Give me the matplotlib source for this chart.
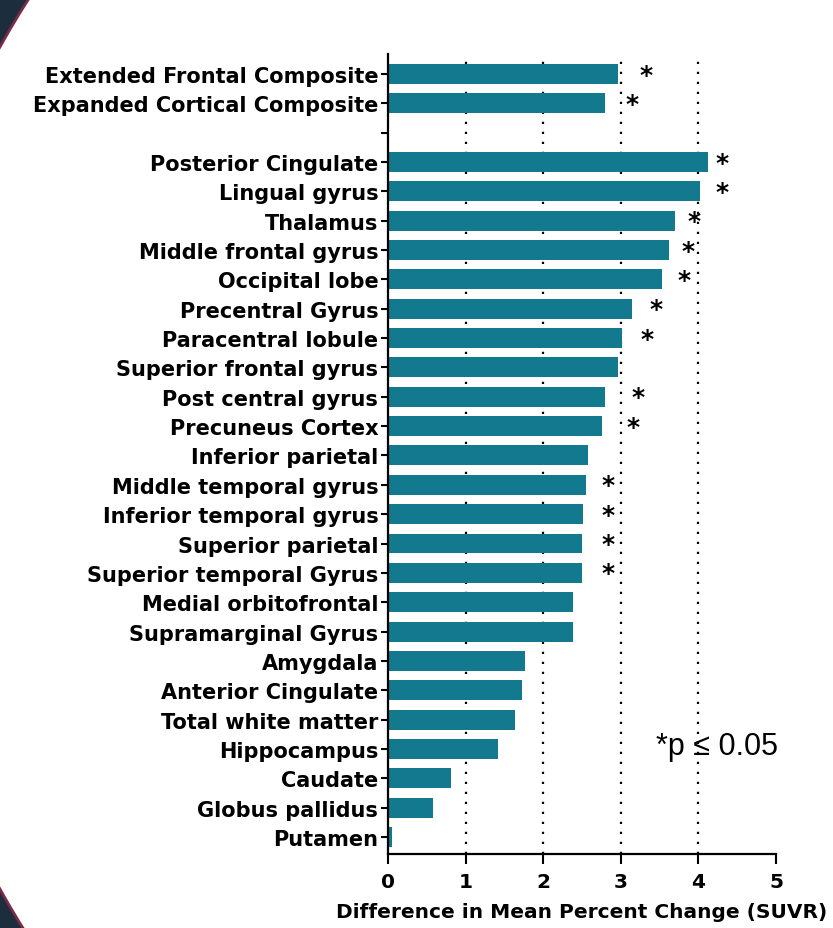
import numpy as np
import matplotlib.pyplot as plt
from matplotlib.patches import Rectangle, Circle

# --- DATA ---
regions = [
    "Extended Frontal Composite", "Expanded Cortical Composite", "",
    "Posterior Cingulate", "Lingual gyrus", "Thalamus", "Middle frontal gyrus",
    "Occipital lobe", "Precentral Gyrus", "Paracentral lobule",
    "Superior frontal gyrus", "Post central gyrus", "Precuneus Cortex",
    "Inferior parietal", "Middle temporal gyrus", "Inferior temporal gyrus",
    "Superior parietal", "Superior temporal Gyrus", "Medial orbitofrontal",
    "Supramarginal Gyrus", "Amygdala", "Anterior Cingulate",
    "Total white matter", "Hippocampus", "Caudate", "Globus pallidus", "Putamen",
]
diff = [
    2.96, 2.80, np.nan,
    4.12, 4.02, 3.70, 3.62, 3.53, 3.15, 3.01, 2.97, 2.79, 2.76,
    2.58, 2.55, 2.51, 2.50, 2.50, 2.38, 2.38,
    1.77, 1.73, 1.64, 1.42, 0.81, 0.58, 0.05,
]
# x position of the significance star (nan = not significant)
star_x = [
    3.33, 3.15, np.nan,
    4.31, 4.31, 3.94, 3.87, 3.81, 3.46, 3.34, np.nan, 3.22, 3.16,
    np.nan, 2.83, 2.83, 2.83, 2.83, np.nan, np.nan,
    np.nan, np.nan, np.nan, np.nan, np.nan, np.nan, np.nan,
]
xticks = [0, 1, 2, 3, 4, 5]

BAR_COLOR = '#13798f'
NAVY = '#1c2d3e'
MAROON = '#7b2b47'

fig = plt.figure(figsize=(8.33, 9.29), dpi=100)

# --- SLIDE FRAME (dark corners on the left) ---
bg = fig.add_axes([0, 0, 1, 1], zorder=-5)
bg.set_xlim(0, 833)
bg.set_ylim(929, 0)
bg.axis('off')
bg.add_patch(Rectangle((0, 0), 833, 929, facecolor=NAVY, edgecolor='none'))
bg.add_patch(Circle((759, 469), 868, facecolor='white', edgecolor=MAROON, linewidth=2))

# --- BAR CHART ---
ax = fig.add_axes([388 / 833, 1 - 855 / 929, 388 / 833, 800 / 929])
ax.patch.set_alpha(0)
y = np.arange(len(regions))
ax.barh(y, diff, height=0.68, color=BAR_COLOR)

for yi, sx in zip(y, star_x):
    if not np.isnan(sx):
        ax.text(sx, yi + 0.02, "*", ha='center', va='center', fontsize=18,
                fontweight='bold', family='DejaVu Sans')

ax.text(3.45, 22.9, "*p \u2264 0.05", ha='left', va='center', fontsize=22,
        family=['Liberation Sans', 'DejaVu Sans'])

ax.set_ylim(26.58, -0.68)
ax.set_xlim(0, 5)
ax.set_yticks(y)
ax.set_yticklabels(regions, fontsize=15, fontweight='bold')
ax.set_xticks(xticks)
ax.set_xticklabels([str(t) for t in xticks], fontsize=14.5, fontweight='bold')
ax.set_xlabel("Difference in Mean Percent Change (SUVR)", fontsize=14.5,
              fontweight='bold', labelpad=8)

ax.set_axisbelow(True)
ax.xaxis.grid(True, color='black', linestyle=(0, (1, 3.5)), linewidth=1.6)
ax.yaxis.grid(False)
# no grid at 0 / 5
for gl, t in zip(ax.xaxis.get_gridlines(), xticks):
    if t in (0, 5):
        gl.set_visible(False)

ax.spines['top'].set_visible(False)
ax.spines['right'].set_visible(False)
ax.spines['left'].set_linewidth(1.6)
ax.spines['bottom'].set_linewidth(1.6)
ax.tick_params(axis='y', length=5, width=1.5, pad=2)
ax.tick_params(axis='x', length=7, width=1.5, pad=6)

plt.savefig("out.png", dpi=100)
